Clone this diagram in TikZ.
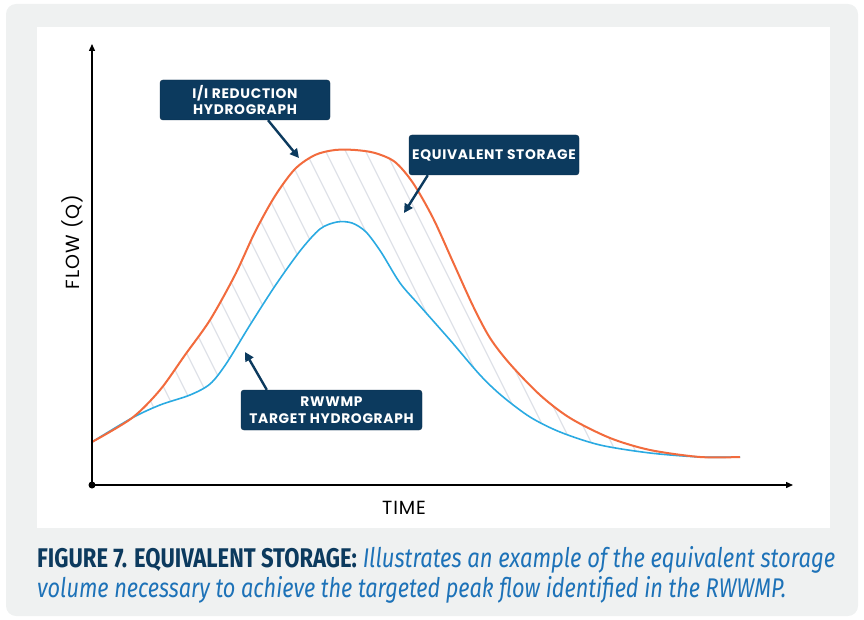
\documentclass[tikz,border=0pt]{standalone}
\usepackage{fontspec}
\usepackage{graphicx}
\usetikzlibrary{arrows.meta,positioning}
\newfontfamily\boxfont[LetterSpace=5]{Poppins}
\newfontfamily\axisfont[LetterSpace=5]{Poppins}
\newfontfamily\capfont{Fira Sans}
\definecolor{navy}{HTML}{0C3A5E}
\definecolor{panel}{HTML}{EFF1F1}
\definecolor{peakorange}{HTML}{F26B3D}
\definecolor{targetblue}{HTML}{2AAAE2}
\definecolor{capblue}{HTML}{1D72B8}
\definecolor{hatchgray}{HTML}{DFE2E8}
\newcommand{\orangepts}{(92,442) (132,418) (160,390) (185,355) (210,320) (235,275) (255,232) (275,196) (295,169) (315,155) (335,150) (355,150) (375,153) (395,162) (413,183) (433,218) (453,262) (473,306) (490,338) (510,364) (540,395) (570,418) (610,438) (650,450) (700,457) (740,457)}
\newcommand{\bluepts}{(92,442) (132,418) (160,405) (190,395) (210,384) (226,364) (250,325) (275,286) (300,251) (320,229) (337,222) (352,223) (366,232) (381,252) (400,283) (420,306) (450,340) (480,375) (502,396) (530,417) (560,432) (600,445) (650,453) (700,457) (740,457)}
\newcommand{\bluerev}{(740,457) (700,457) (650,453) (600,445) (560,432) (530,417) (502,396) (480,375) (450,340) (420,306) (400,283) (381,252) (366,232) (352,223) (337,222) (320,229) (300,251) (275,286) (250,325) (226,364) (210,384) (190,395) (160,405) (132,418) (92,442)}

\begin{document}
\begin{tikzpicture}[x=1pt,y=-1pt,
  callout/.style={fill=navy,draw=navy!80!black,rounded corners=3pt,text=white,
    font=\boxfont\bfseries\fontsize{13.8}{16.5}\selectfont,align=center,
    minimum width=170pt,minimum height=40pt,inner sep=0pt},
  pointer/.style={navy,line width=2.4pt,-{Triangle[length=9pt,width=9pt]}},
  axisline/.style={line width=1.4pt,-{Triangle[length=7pt,width=6pt]}},
  hatch/.style={hatchgray,line width=1.2pt}]
\useasboundingbox (0,0) rectangle (864,620);
\fill[panel,rounded corners=10pt] (6,4) rectangle (858,616);
\fill[white] (37,27) rectangle (830,528);

% storage between the two hydrographs
\begin{scope}
  \clip plot[smooth] coordinates {\orangepts} -- plot[smooth] coordinates {\bluerev} -- cycle;
  \foreach \k in {0,...,42}
    \draw[hatch] (\k*20-100,100) -- ++(250,500);
\end{scope}
\draw[targetblue,line width=1.6pt] plot[smooth] coordinates {\bluepts};
\draw[peakorange,line width=2pt] plot[smooth] coordinates {\orangepts};

% axes
\coordinate (O) at (92,485);
\coordinate (ytop) at (92,44);
\coordinate (xend) at (793,485);
\draw[axisline] (O) -- (ytop);
\draw[axisline] (O) -- (xend);
\fill (O) circle (3.5pt);
\node[font=\axisfont\fontsize{19}{21}\selectfont,rotate=90] (flow) at (72,242) {FLOW (Q)};
\node[font=\axisfont\fontsize{19}{21}\selectfont] (time) at (404,508) {TIME};

% callouts
\node[callout] (reduction) at (245,100) {I/I REDUCTION\\HYDROGRAPH};
\node[callout] (storage) at (494,155) {EQUIVALENT STORAGE};
\node[callout,minimum width=181pt] (target) at (331.5,410) {RWWMP\\TARGET HYDROGRAPH};
\coordinate (r_tip) at (299,158);
\coordinate (s_tip) at (404,213);
\coordinate (t_tip) at (245,352);
\draw[pointer] (reduction.south)++(23,0) -- (r_tip);
\draw[pointer] (storage.south west)++(19,0) -- (s_tip);
\draw[pointer] (target.north west)++(26,0) -- (t_tip);

% caption
\node[anchor=base west,inner sep=0pt,font=\capfont\fontsize{27}{30}\selectfont] (cap1) at (37,567)
  {\resizebox{798pt}{\height}{\textcolor{navy}{\bfseries FIGURE 7. EQUIVALENT STORAGE:} \textcolor{capblue}{\itshape Illustrates an example of the equivalent storage}}};
\node[anchor=base west,inner sep=0pt,font=\capfont\fontsize{27}{30}\selectfont] (cap2) at (37,597)
  {\resizebox{749pt}{\height}{\textcolor{capblue}{\itshape volume necessary to achieve the targeted peak flow identified in the RWWMP.}}};
\end{tikzpicture}
\end{document}
